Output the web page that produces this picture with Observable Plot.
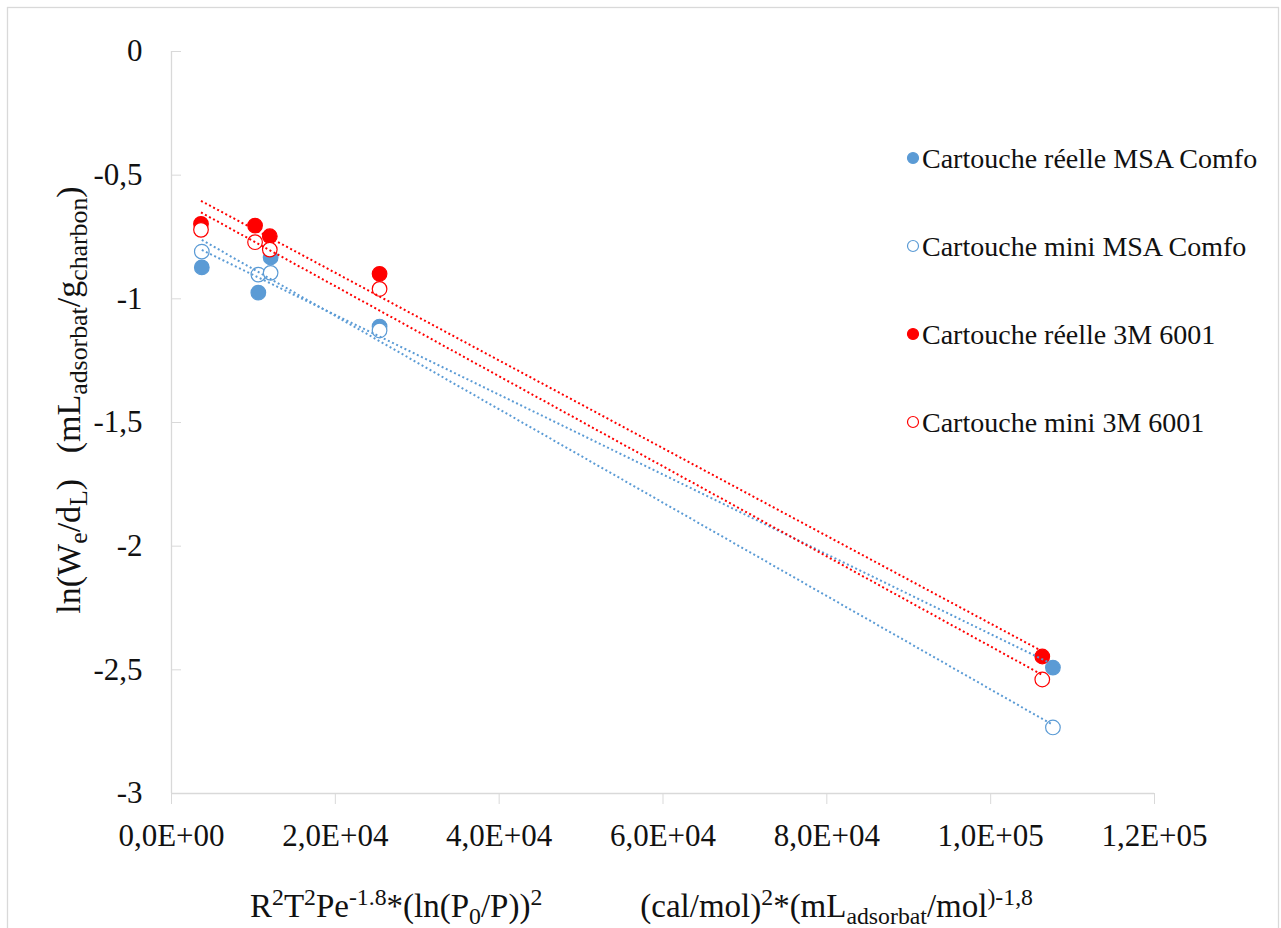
<!DOCTYPE html>
<html><head><meta charset="utf-8">
<script src="https://cdn.jsdelivr.net/npm/d3@7"></script>
<script src="https://cdn.jsdelivr.net/npm/@observablehq/plot@0.6"></script>
<style>
html,body{margin:0;padding:0;background:#fff;}
#chart{position:relative;width:1281px;height:928px;overflow:hidden;}
svg{font-family:"Liberation Serif","Times New Roman",serif;}
</style></head><body><div id="chart"></div>
<script>
// ---- data ----
const seriesNames = ["Cartouche réelle MSA Comfo", "Cartouche mini MSA Comfo", "Cartouche réelle 3M 6001", "Cartouche mini 3M 6001"];
const seriesColors = ["#5B9BD5", "#5B9BD5", "#FF0000", "#FF0000"];
const seriesFilled = [true, false, true, false];
const xReelleMSA = [3700, 10600, 12100, 25400, 107600];
const yReelleMSA = [-0.873, -0.975, -0.833, -1.112, -2.491];
const xMiniMSA = [3700, 10600, 12100, 25400, 107600];
const yMiniMSA = [-0.809, -0.902, -0.895, -1.128, -2.733];
const xReelle3M = [3600, 10200, 12000, 25400, 106300];
const yReelle3M = [-0.697, -0.704, -0.747, -0.899, -2.446];
const xMini3M = [3600, 10200, 12000, 25400, 106300];
const yMini3M = [-0.721, -0.771, -0.801, -0.960, -2.539];
const xTicks = [0, 20000, 40000, 60000, 80000, 100000, 120000];
const yTicks = [0, -0.5, -1, -1.5, -2, -2.5, -3];

const seriesX = [xReelleMSA, xMiniMSA, xReelle3M, xMini3M];
const seriesY = [yReelleMSA, yMiniMSA, yReelle3M, yMini3M];
const rows = [];
seriesNames.forEach((name, i) => seriesX[i].forEach((x, j) => rows.push({series: name, x, y: seriesY[i][j], color: seriesColors[i], filled: seriesFilled[i]})));

const fmtX = v => {
  const [m, e] = v.toExponential(1).split("e");
  return m.replace(".", ",") + "E" + e[0] + e.slice(1).padStart(2, "0");
};
const fmtY = v => String(v).replace(".", ",");

const W = 1281, H = 928;
const plot = Plot.plot({
  width: W, height: H,
  marginLeft: 171, marginRight: 127, marginTop: 51, marginBottom: 135,
  style: {fontFamily: "'Liberation Serif','Times New Roman',serif", background: "white"},
  x: {domain: [0, 120000]},
  y: {domain: [-3, 0]},
  marks: [
    Plot.ruleX([0], {stroke: "#d9d9d9", strokeWidth: 1.3}),
    Plot.ruleY([-3], {stroke: "#d9d9d9", strokeWidth: 1.3}),
    Plot.axisX({ticks: xTicks, tickSize: 11, stroke: "#d9d9d9", tickFormat: () => "", label: null}),
    Plot.axisX({ticks: xTicks, tickSize: 0, tickPadding: 30, tickFormat: fmtX, fontSize: 31, fill: "#111", label: null}),
    Plot.axisY({ticks: yTicks, tickSize: -10, stroke: "#d9d9d9", tickFormat: () => "", label: null}),
    Plot.axisY({ticks: yTicks, tickSize: 0, tickPadding: 29, tickFormat: fmtY, fontSize: 31, fill: "#111", label: null}),
    Plot.dot(rows, {x: "x", y: "y", r: 7.3, stroke: "color", fill: d => d.filled ? d.color : "white", strokeWidth: 1.2}),
    Plot.linearRegressionY(rows, {x: "x", y: "y", z: "series", stroke: "color", ci: 0, strokeWidth: 2, strokeDasharray: "2,2.6", strokeLinecap: "butt"})
  ]
});
document.getElementById("chart").appendChild(plot);

const svg = d3.select(plot);
// chart border
svg.append("rect").attr("x", 7.5).attr("y", 7.5).attr("width", 1271).attr("height", 960)
  .attr("fill", "none").attr("stroke", "#d9d9d9").attr("stroke-width", 1.3);

// legend
const lg = svg.append("g").attr("font-size", 28).attr("fill", "#111").attr("text-anchor", "start");
seriesNames.forEach((name, i) => {
  const g = lg.append("g").attr("transform", `translate(913,${158 + i * 88})`);
  g.append("circle").attr("r", 5.5)
    .attr("fill", seriesFilled[i] ? seriesColors[i] : "white")
    .attr("stroke", seriesColors[i]).attr("stroke-width", 1.2);
  g.append("text").attr("x", 9).attr("dy", "0.35em").text(name);
});

// rich text helper (sub/superscripts)
function rich(sel, parts, size, ratio) {
  let shift = 0;
  parts.forEach(p => {
    const [t, k, dx] = p;
    const target = k === "sup" ? -0.36 * size : k === "sub" ? 0.22 * size : 0;
    const ts = sel.append("tspan").attr("dy", target - shift)
      .attr("font-size", k ? size * ratio : size).text(t);
    if (dx) ts.attr("dx", dx);
    shift = target;
  });
}

const xl = svg.append("text").attr("x", 250).attr("y", 917).attr("fill", "#111")
  .attr("font-size", 33).attr("text-anchor", "start");
rich(xl, [["R"], ["2", "sup"], ["T"], ["2", "sup"], ["Pe"], ["-1.8", "sup"], ["*(ln(P"], ["0", "sub"], ["/P))"], ["2", "sup"],
  ["(cal/mol)", null, 98], ["2", "sup"], ["*(mL"], ["adsorbat", "sub"], ["/mol"], [")-1,8", "sup"]], 33, 0.72);

const yl = svg.append("text").attr("transform", "translate(80,400) rotate(-90)").attr("text-anchor", "middle")
  .attr("fill", "#111").attr("font-size", 34).attr("xml:space", "preserve").style("white-space", "pre");
rich(yl, [["ln(W"], ["e", "sub"], ["/d"], ["L", "sub"], [")   (mL"], ["adsorbat", "sub"], ["/g"], ["charbon", "sub"], [")"]], 34, 0.76);
</script></body></html>
